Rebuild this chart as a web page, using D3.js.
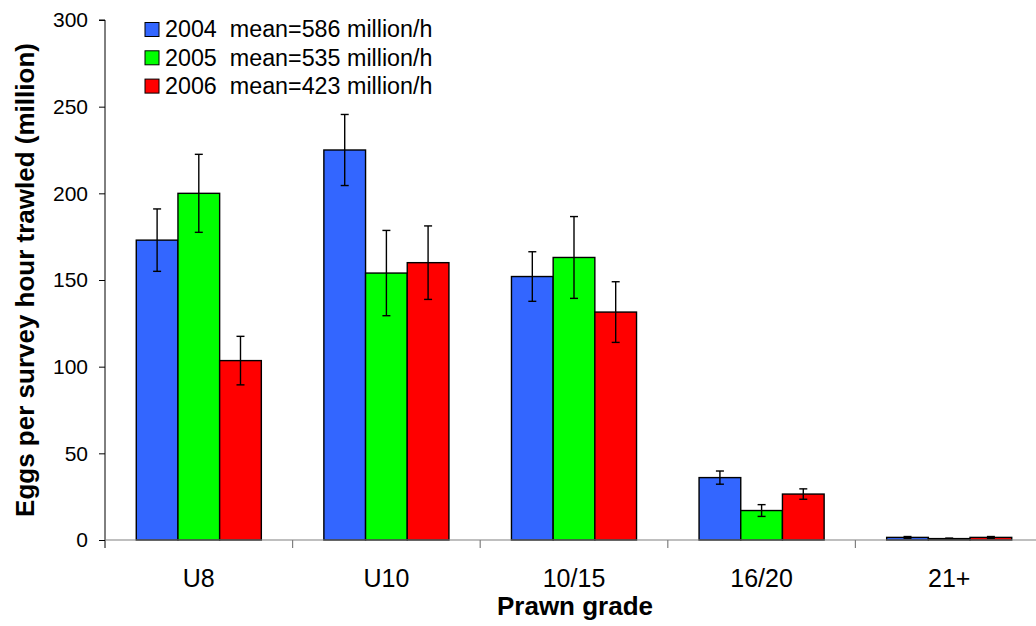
<!DOCTYPE html>
<html>
<head>
<meta charset="utf-8">
<script src="https://cdn.jsdelivr.net/npm/d3@7"></script>
<style>
  html, body { margin: 0; padding: 0; background: #fff; }
  svg { display: block; font-family: "Liberation Sans", Arial, sans-serif; }
</style>
</head>
<body>
<svg id="chart" width="1036" height="626"></svg>
<script>
// Prawn grades along the x axis
const grades = ["U8", "U10", "10/15", "16/20", "21+"];
// Survey years (one bar per year in each grade)
const years = ["2004", "2005", "2006"];
const yearMeans = [586, 535, 423];
const yearColors = ["#3366FF", "#00FF00", "#FF0000"];
// Eggs per survey hour trawled (million), per year
const eggs2004 = [173, 225, 152, 36, 1.5];
const eggs2005 = [200, 154, 163, 17, 0.8];
const eggs2006 = [103.5, 160, 131.5, 26.5, 1.5];
// Half-width of the error bars
const err2004 = [18, 20.5, 14.3, 3.8, 0.5];
const err2005 = [22.5, 24.6, 23.6, 3.4, 0.3];
const err2006 = [14, 21.2, 17.5, 3, 0.5];
const yTicks = [0, 50, 100, 150, 200, 250, 300];

const values = [eggs2004, eggs2005, eggs2006];
const errors = [err2004, err2005, err2006];

const svg = d3.select("#chart");
const plotLeft = 105, plotRight = 1043, plotTop = 20, plotBottom = 540;

const x = d3.scaleBand().domain(grades).range([plotLeft, plotRight]).padding(0);
// each group: 3 bars plus a gap of 1.5 bar widths split over both sides
const barW = x.bandwidth() / 4.5;
const y = d3.scaleLinear().domain([0, 300]).range([plotBottom, plotTop]);

// flatten into records
const records = [];
grades.forEach((g, gi) => {
  years.forEach((yr, si) => {
    records.push({ g, si, v: values[si][gi], e: errors[si][gi] });
  });
});
const barX = d => x(d.g) + 0.75 * barW + d.si * barW;

// bars
svg.append("g").selectAll("rect").data(records).join("rect")
  .attr("x", barX)
  .attr("y", d => y(d.v))
  .attr("width", barW)
  .attr("height", d => y(0) - y(d.v))
  .attr("fill", d => yearColors[d.si])
  .attr("stroke", "#000")
  .attr("stroke-width", 1.4);

// error bars
const eb = svg.append("g").attr("stroke", "#000").attr("stroke-width", 1.4);
records.forEach(d => {
  const cx = barX(d) + barW / 2;
  const y1 = y(d.v + d.e), y2 = y(d.v - d.e);
  eb.append("line").attr("x1", cx).attr("x2", cx).attr("y1", y1).attr("y2", y2);
  eb.append("line").attr("x1", cx - 4).attr("x2", cx + 4).attr("y1", y1).attr("y2", y1);
  eb.append("line").attr("x1", cx - 4).attr("x2", cx + 4).attr("y1", y2).attr("y2", y2);
});

// y axis
const yAxis = svg.append("g").attr("transform", `translate(${plotLeft},0)`)
  .call(d3.axisLeft(y).tickValues(yTicks).tickSize(6).tickPadding(11));
yAxis.select(".domain").attr("stroke", "#000").attr("stroke-width", 1)
  .attr("d", `M-6,${plotTop}H0V${plotBottom + 8}`);
yAxis.selectAll(".tick line").attr("stroke", "#000");
yAxis.selectAll(".tick text").attr("font-size", 21).attr("fill", "#000")
  .attr("font-family", "Liberation Sans, Arial, sans-serif");

// x axis
const xAxis = svg.append("g").attr("transform", `translate(0,${plotBottom})`);
xAxis.append("line").attr("x1", plotLeft).attr("x2", plotRight).attr("y1", 0).attr("y2", 0)
  .attr("stroke", "#808080").attr("stroke-width", 1.2);
xAxis.selectAll(".xt").data(grades.slice(1)).join("line")
  .attr("class", "xt")
  .attr("x1", d => x(d)).attr("x2", d => x(d)).attr("y1", 0).attr("y2", 8)
  .attr("stroke", "#808080").attr("stroke-width", 1.2);
xAxis.selectAll(".xl").data(grades).join("text")
  .attr("class", "xl")
  .attr("x", d => x(d) + x.bandwidth() / 2)
  .attr("y", 47)
  .attr("text-anchor", "middle")
  .attr("font-size", 25)
  .attr("fill", "#000")
  .text(d => d);

// axis titles
svg.append("text")
  .attr("x", (plotLeft + plotRight) / 2 + 1).attr("y", 615)
  .attr("text-anchor", "middle").attr("font-weight", "bold").attr("font-size", 26)
  .text("Prawn grade");
svg.append("text")
  .attr("transform", `translate(34,${(plotTop + plotBottom) / 2}) rotate(-90)`)
  .attr("text-anchor", "middle").attr("font-weight", "bold").attr("font-size", 26)
  .text("Eggs per survey hour trawled (million)");

// legend
const legend = svg.append("g");
years.forEach((yr, i) => {
  const ly = 29.5 + i * 28.3;
  legend.append("rect").attr("x", 145).attr("y", ly - 7).attr("width", 14).attr("height", 14)
    .attr("fill", yearColors[i]).attr("stroke", "#000").attr("stroke-width", 1);
  legend.append("text").attr("x", 165).attr("y", ly + 7.8)
    .attr("font-size", 23.3).attr("fill", "#000")
    .style("white-space", "pre")
    .text(`${yr}  mean=${yearMeans[i]} million/h`);
});
</script>
</body>
</html>
